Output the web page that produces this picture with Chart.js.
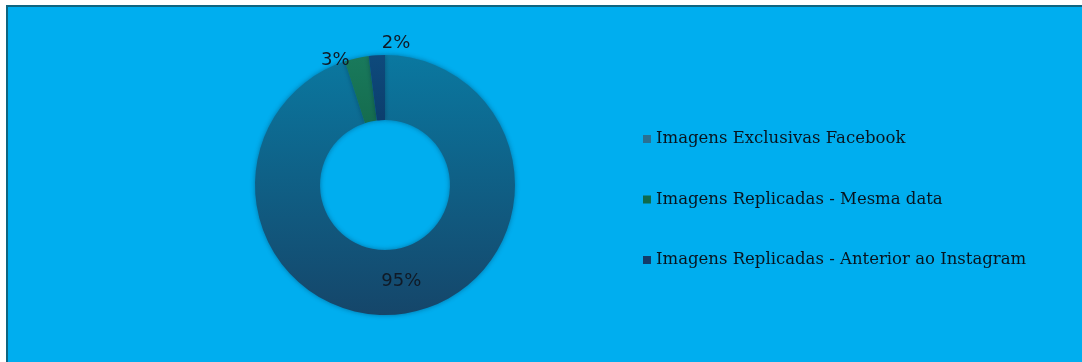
<!DOCTYPE html>
<html>
<head>
<meta charset="utf-8">
<script src="https://cdn.jsdelivr.net/npm/chart.js@4/dist/chart.umd.min.js"></script>
<style>
    html, body { margin: 0; padding: 0; background: #ffffff; overflow: hidden; }
    #frame {
        position: absolute;
        left: 6px;
        top: 5px;
        width: 1100px;
        height: 380px;
        background: #00aeef;
        border-top: 2px solid #0f6580;
        border-left: 2px solid #0f6580;
    }
    #chartCanvas { position: absolute; left: 0; top: 0; }
</style>
</head>
<body>
<div id="frame"></div>
<canvas id="chartCanvas" width="1082" height="362"></canvas>
<script>
const categories = [
    "Imagens Exclusivas Facebook",
    "Imagens Replicadas - Mesma data",
    "Imagens Replicadas - Anterior ao Instagram"
];
const shares = [95, 3, 2];
const shareLabels = ["95%", "3%", "2%"];

// top and bottom colour of each slice (vertical gradient), plus legend marker colour
const topColors = ["#0a78a0", "#197a5c", "#0e4a7c"];
const bottomColors = ["#15466a", "#0a4528", "#061b40"];
const markerColors = ["#2a7092", "#0f6a4c", "#123c6a"];

function sliceFill(context) {
    const chart = context.chart;
    const area = chart.chartArea;
    if (!area) {
        return topColors[context.dataIndex];
    }
    const g = chart.ctx.createLinearGradient(0, area.top, 0, area.bottom);
    g.addColorStop(0, topColors[context.dataIndex]);
    g.addColorStop(1, bottomColors[context.dataIndex]);
    return g;
}

// soft dark halo round the ring
const shadowPlugin = {
    id: "shadowPlugin",
    beforeDatasetsDraw(chart) {
        chart.ctx.save();
        chart.ctx.shadowColor = "rgba(0, 40, 70, 0.45)";
        chart.ctx.shadowBlur = 5;
    },
    afterDatasetsDraw(chart) {
        chart.ctx.restore();
    }
};

// percentage labels: the big one inside the ring, the small ones just outside
const percentPlugin = {
    id: "percentPlugin",
    afterDatasetsDraw(chart) {
        const ctx = chart.ctx;
        const arcs = chart.getDatasetMeta(0).data;
        ctx.save();
        ctx.font = "18px 'DejaVu Sans'";
        ctx.fillStyle = "#101a26";
        arcs.forEach((arc, i) => {
            const mid = (arc.startAngle + arc.endAngle) / 2;
            if (i == 0) {
                const r = (arc.innerRadius + arc.outerRadius) / 2;
                ctx.textAlign = "center";
                ctx.textBaseline = "middle";
                ctx.fillText(shareLabels[i], arc.x + r * Math.cos(mid) + 1, arc.y + r * Math.sin(mid));
            } else {
                const px = arc.x + arc.outerRadius * Math.cos(mid);
                const py = arc.y + arc.outerRadius * Math.sin(mid);
                if (i == 1) {
                    ctx.textAlign = "right";
                    ctx.textBaseline = "middle";
                    ctx.fillText(shareLabels[i], px - 7, py + 2);
                } else {
                    ctx.textAlign = "left";
                    ctx.textBaseline = "bottom";
                    ctx.fillText(shareLabels[i], px + 5, py - 3);
                }
            }
        });
        ctx.restore();
    }
};

// legend on the right, drawn by hand to match the original layout
const legendPlugin = {
    id: "legendPlugin",
    afterDraw(chart) {
        const ctx = chart.ctx;
        ctx.save();
        ctx.font = "16.5px 'DejaVu Serif'";
        ctx.textAlign = "left";
        ctx.textBaseline = "middle";
        for (let i = 0; i < categories.length; i++) {
            const y = 139 + i * 60.5;
            ctx.fillStyle = markerColors[i];
            ctx.fillRect(643, y - 4, 8, 8);
            ctx.fillStyle = "#08141f";
            ctx.fillText(categories[i], 656, y);
        }
        ctx.restore();
    }
};

new Chart(document.getElementById("chartCanvas"), {
    type: "doughnut",
    data: {
        labels: categories,
        datasets: [{
            data: shares,
            backgroundColor: sliceFill,
            borderWidth: 0,
            hoverOffset: 0
        }]
    },
    options: {
        responsive: false,
        animation: false,
        events: [],
        cutout: "50%",
        layout: {
            padding: { left: 255, right: 567, top: 55, bottom: 47 }
        },
        plugins: {
            legend: { display: false },
            tooltip: { enabled: false }
        }
    },
    plugins: [shadowPlugin, percentPlugin, legendPlugin]
});
</script>
</body>
</html>
